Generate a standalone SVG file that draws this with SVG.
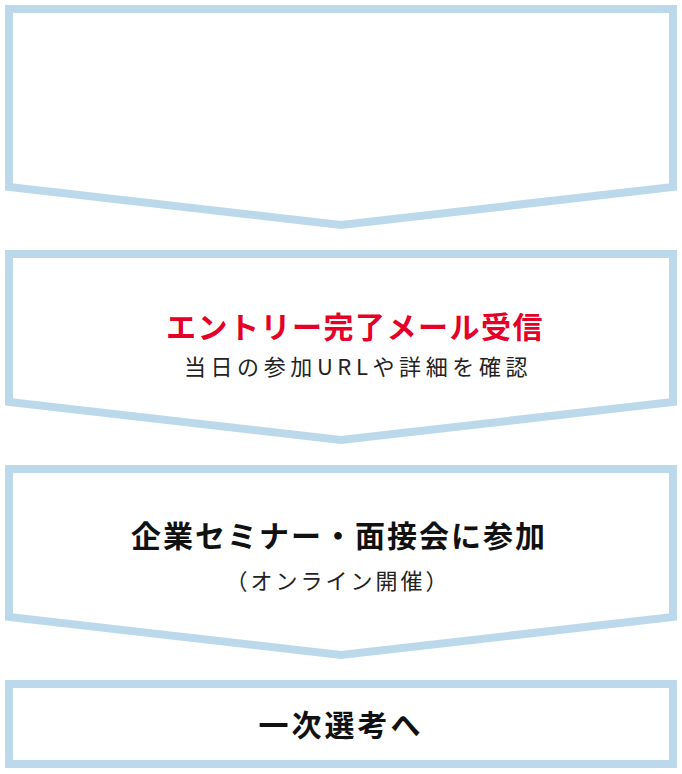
<svg xmlns="http://www.w3.org/2000/svg" width="682" height="774" viewBox="0 0 682 774">
<style>
.box{fill:#ffffff;stroke:#bcd9ec;stroke-width:8;stroke-linejoin:miter;stroke-miterlimit:10}
.t{font-family:"Noto Sans CJK JP","Noto Sans",sans-serif;text-anchor:middle}
.title{font-size:30px;font-weight:700;fill:#111111;letter-spacing:2px}
.red{fill:#e60027;letter-spacing:1.5px}
.last{letter-spacing:3px}
.sub{font-size:22px;font-weight:400;fill:#222222;letter-spacing:4.6px}
.sub2{font-size:22px;font-weight:400;fill:#222222;letter-spacing:3px}
</style>
<rect width="682" height="774" fill="#ffffff"/>
<g id="connectors"></g>
<g id="step1">
<polygon class="box" points="9,9 673,9 673,187 341,225 9,187"/>
</g>
<g id="step2">
<polygon class="box" points="9,254 673,254 673,402 341,440 9,402"/>
<text class="t title red" x="355" y="338">エントリー完了メール受信</text>
<text class="t sub" x="358" y="375">当日の参加URLや詳細を確認</text>
</g>
<g id="step3">
<polygon class="box" points="9,469 673,469 673,617 341,655 9,617"/>
<text class="t title" x="339" y="547">企業セミナー・面接会に参加</text>
<text class="t sub2" x="338" y="589">（オンライン開催）</text>
</g>
<g id="step4">
<rect class="box" x="9" y="684" width="664" height="80"/>
<text class="t title last" x="341" y="736">一次選考へ</text>
</g>
</svg>
